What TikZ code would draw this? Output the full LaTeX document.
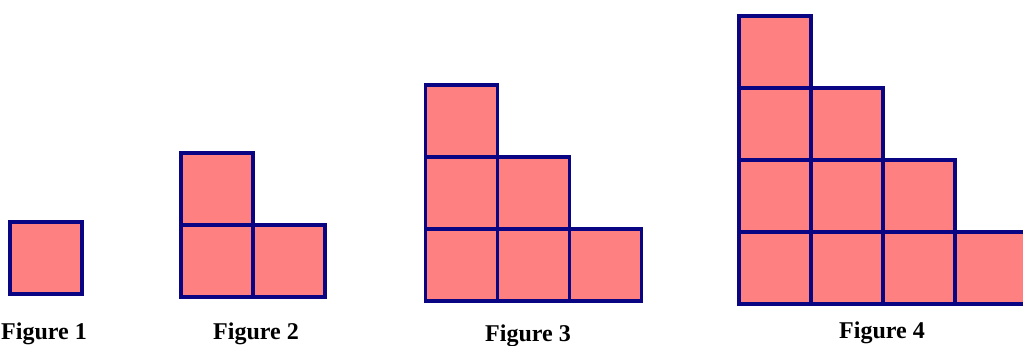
\documentclass[tikz,border=0pt]{standalone}
\usepackage{fontspec}
\setmainfont{Liberation Serif}
\usepackage{xcolor}
\usepackage{tikz}
\usetikzlibrary{positioning}

\definecolor{tilepink}{RGB}{255,128,128}
\definecolor{tilenavy}{RGB}{10,5,130}

\begin{document}
\begin{tikzpicture}[
    tile/.style={fill=tilepink,draw=tilenavy,line width=1.5pt},
    caption/.style={font=\fontsize{9.5}{11}\selectfont\bfseries,inner sep=0pt}
]

% Frame
\clip (0,0) rectangle (14.208,-4.792);

% Figure 1
\begin{scope}[shift={(0.139,-4.083)}]
\draw[tile] (0,0) rectangle ++(1,1);
\end{scope}

% Figure 2
\begin{scope}[shift={(2.514,-4.125)}]
\draw[tile] (0,0) rectangle ++(1,1) (1,0) rectangle ++(1,1);
\draw[tile] (0,1) rectangle ++(1,1);
\end{scope}

% Figure 3
\begin{scope}[shift={(5.910,-4.180)}]
\draw[tile] (0,0) rectangle ++(1,1) (1,0) rectangle ++(1,1) (2,0) rectangle ++(1,1);
\draw[tile] (0,1) rectangle ++(1,1) (1,1) rectangle ++(1,1);
\draw[tile] (0,2) rectangle ++(1,1);
\end{scope}

% Figure 4
\begin{scope}[shift={(10.264,-4.222)}]
\draw[tile] (0,0) rectangle ++(1,1) (1,0) rectangle ++(1,1) (2,0) rectangle ++(1,1) (3,0) rectangle ++(1,1);
\draw[tile] (0,1) rectangle ++(1,1) (1,1) rectangle ++(1,1) (2,1) rectangle ++(1,1);
\draw[tile] (0,2) rectangle ++(1,1) (1,2) rectangle ++(1,1);
\draw[tile] (0,3) rectangle ++(1,1);
\end{scope}

% Labels
\node[caption] (fig1) at (0.611,-4.640) {Figure 1};
\node[caption] (fig2) at (3.556,-4.640) {Figure 2};
\node[caption] (fig3) at (7.333,-4.668) {Figure 3};
\node[caption] (fig4) at (12.250,-4.626) {Figure 4};

\end{tikzpicture}
\end{document}
